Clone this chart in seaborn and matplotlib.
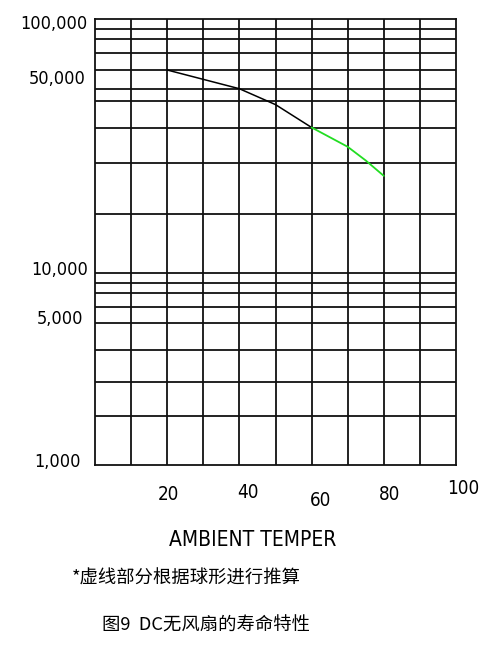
import numpy as np
import matplotlib
matplotlib.use("Agg")
import matplotlib.pyplot as plt
import seaborn as sns

# ---------------- data ----------------
temp_measured = [20, 40, 50, 60]
life_measured = [50000, 43100, 38000, 31700]

temp_estimated = [60, 70, 75, 80]
life_estimated = [31700, 27200, 24400, 21600]

x_grid = [10, 20, 30, 40, 50, 60, 70, 80, 90]
y_grid = [87000, 76000, 63000, 50000, 43000, 39000, 31500, 24000, 16000,
          10000, 8700, 7600, 6200, 5000, 3700, 2560, 1740]

x_tick_values = [20, 40, 60, 80, 100]
x_tick_labels = ["20", "40", "60", "80", "100"]
y_tick_values = [100000, 50000, 10000, 5000, 1000]
y_tick_labels = ["100,000", "50,000", "10,000", "5,000", "1,000"]

x_label = "AMBIENT TEMPER"
note_text = "*虚线部分根据球形进行推算"
caption_text = "图9  DC无风扇的寿命特性"

# ---------------- style ----------------
sns.set_style("white")
plt.rcParams["font.family"] = ["DejaVu Sans"]

W, H = 501, 651
fig = plt.figure(figsize=(W / 100, H / 100), dpi=100)
ax = fig.add_axes([95 / W, 1 - 465 / H, (456 - 95) / W, (465 - 19) / H])

# piecewise log scale as drawn on the original chart
aL = np.array([3.0, np.log10(5000), 4.0, np.log10(50000), 5.0])
aP = np.array([0.0, 142.0, 192.0, 395.0, 446.0])
s_lo = (aP[1] - aP[0]) / (aL[1] - aL[0])
s_hi = (aP[4] - aP[3]) / (aL[4] - aL[3])


def fwd(v):
    v = np.asarray(v, dtype=float)
    L = np.log10(np.maximum(v, 1e-300))
    p = np.interp(L, aL, aP)
    p = np.where(L < aL[0], aP[0] + (L - aL[0]) * s_lo, p)
    p = np.where(L > aL[-1], aP[-1] + (L - aL[-1]) * s_hi, p)
    return p


def inv(p):
    p = np.asarray(p, dtype=float)
    L = np.interp(p, aP, aL)
    L = np.where(p < aP[0], aL[0] + (p - aP[0]) / s_lo, L)
    L = np.where(p > aP[-1], aL[-1] + (p - aP[-1]) / s_hi, L)
    return 10 ** L


sns.lineplot(x=temp_measured, y=life_measured, ax=ax, color="black",
             linewidth=1.1, sort=False)
sns.lineplot(x=temp_estimated, y=life_estimated, ax=ax, color="#22dd22",
             linewidth=1.3, sort=False)

ax.set_yscale("function", functions=(fwd, inv))
ax.set_xlim(0, 100)
ax.set_ylim(1000, 100000)

ax.set_xticks(x_grid)
ax.set_yticks(y_grid)
ax.minorticks_off()
ax.grid(True, color="#111111", linewidth=1.3)
ax.set_axisbelow(True)
ax.tick_params(length=0, labelleft=False, labelbottom=False)
ax.set_xlabel("")
ax.set_ylabel("")
for sp in ax.spines.values():
    sp.set_visible(True)
    sp.set_color("#111111")
    sp.set_linewidth(1.3)

# x tick labels (slightly staggered like the original drawing)
x_dx = [1, 9, 9, 6, 7]
x_dy = [30, 28, 35, 30, 23]
for v, t, dx, dy in zip(x_tick_values, x_tick_labels, x_dx, x_dy):
    ax.annotate(t, xy=(v, 0), xycoords=("data", "axes fraction"),
                xytext=(dx, -dy), textcoords="offset pixels",
                ha="center", va="center", fontsize=13.5, color="black",
                fontstretch="condensed", annotation_clip=False)

# y tick labels
y_dx = [-8, -9, -7, -12, -14]
y_dy = [5, 9, -3, -4, -3]
for v, t, dx, dy in zip(y_tick_values, y_tick_labels, y_dx, y_dy):
    ax.annotate(t, xy=(0, v), xycoords=("axes fraction", "data"),
                xytext=(dx, -dy), textcoords="offset pixels",
                ha="right", va="center", fontsize=13, color="black",
                fontstretch="condensed", annotation_clip=False)

fig.text(252.5 / W, 1 - 540 / H, x_label, ha="center", va="center",
         fontsize=15, fontstretch="condensed", color="black")
fig.text(72 / W, 1 - 579 / H, note_text, ha="left", va="center",
         fontsize=13.2, color="black", family=["Noto Sans CJK SC", "DejaVu Sans"])
fig.text(102 / W, 1 - 626 / H, caption_text, ha="left", va="center",
         fontsize=13.2, color="black", family=["Noto Sans CJK SC", "DejaVu Sans"])

fig.savefig("out.png", dpi=100, facecolor="white")
